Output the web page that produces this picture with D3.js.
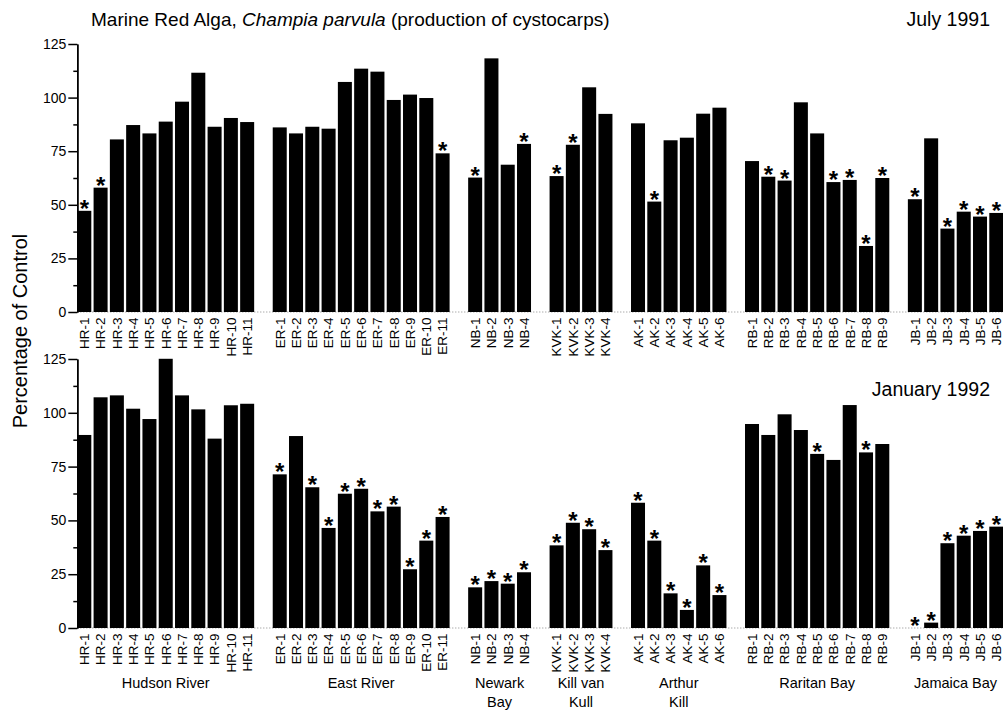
<!DOCTYPE html>
<meta charset="utf-8">
<style>
body { margin: 0; background: #fff; }
text { font-family: "Liberation Sans", Arial, Helvetica, sans-serif; fill: #000; }
.axis path, .axis line { stroke: #000; stroke-width: 1.5px; }
.axis text { font-size: 14px; }
.site { font-size: 13.5px; }
.group { font-size: 14.5px; }
.star { font-size: 24px; font-weight: bold; }
.baseline { stroke: #888; stroke-width: 1px; stroke-dasharray: 1,2; }
</style>
<body>
<script src="https://d3js.org/d3.v7.min.js"></script>
<script>
var width = 1003,
    height = 713;

// station groups
var groupCodes = ["HR", "ER", "NB", "KVK", "AK", "RB", "JB"];
var groupSizes = [11, 11, 4, 4, 6, 9, 6];
var groupNames = [["Hudson River"], ["East River"], ["Newark", "Bay"], ["Kill van", "Kull"],
                  ["Arthur", "Kill"], ["Raritan Bay"], ["Jamaica Bay"]];

// percentage of control, July 1991
var julyValues = [47.2, 58.0, 80.5, 87.2, 83.3, 88.8, 98.1, 111.6, 86.4, 90.5, 88.6,
                  86.1, 83.3, 86.4, 85.5, 107.3, 113.5, 112.1, 98.9, 101.4, 99.8, 74.0,
                  62.7, 118.3, 68.7, 78.4,
                  63.4, 78.0, 104.8, 92.4,
                  88.0, 51.5, 80.1, 81.3, 92.5, 95.3,
                  70.4, 63.1, 61.3, 97.8, 83.3, 60.6, 61.6, 30.8, 62.5,
                  52.6, 81.0, 38.9, 46.8, 44.5, 46.2];
var julySig = ["HR-1", "HR-2", "ER-11", "NB-1", "NB-4", "KVK-1", "KVK-2", "AK-2",
               "RB-2", "RB-3", "RB-6", "RB-7", "RB-8", "RB-9",
               "JB-1", "JB-3", "JB-4", "JB-5", "JB-6"];

// percentage of control, January 1992
var janValues = [89.7, 107.2, 108.1, 101.9, 97.1, 125.1, 108.1, 101.6, 88.0, 103.5, 104.2,
                 71.4, 89.2, 65.4, 46.5, 62.4, 64.7, 54.2, 56.4, 27.3, 40.6, 51.6,
                 18.9, 21.8, 20.6, 25.9,
                 38.4, 48.9, 45.9, 36.2,
                 58.2, 40.6, 16.1, 8.4, 29.1, 15.3,
                 94.8, 89.7, 99.3, 92.0, 80.9, 78.1, 103.6, 81.6, 85.5,
                 0, 2.5, 39.4, 42.9, 45.1, 47.1];
var janSig = ["ER-1", "ER-3", "ER-4", "ER-5", "ER-6", "ER-7", "ER-8", "ER-9", "ER-10", "ER-11",
              "NB-1", "NB-2", "NB-3", "NB-4", "KVK-1", "KVK-2", "KVK-3", "KVK-4",
              "AK-1", "AK-2", "AK-3", "AK-4", "AK-5", "AK-6", "RB-5", "RB-8",
              "JB-1", "JB-2", "JB-3", "JB-4", "JB-5", "JB-6"];

var yTicks = [0, 25, 50, 75, 100, 125];

// build site list and slot domain (one empty slot after each group)
var sites = [], slots = [], groups = [];
groupCodes.forEach(function(code, gi) {
  var members = [];
  for (var i = 1; i <= groupSizes[gi]; i++) {
    var s = code + "-" + i;
    sites.push(s); slots.push(s); members.push(s);
  }
  groups.push({ names: groupNames[gi], first: members[0], last: members[members.length - 1] });
  if (gi < groupCodes.length - 1) slots.push("gap" + gi);
});

var x = d3.scaleBand()
    .domain(slots)
    .range([77.3, 1003.3])
    .paddingInner(0.14)
    .paddingOuter(0);

var svg = d3.select("body").append("svg")
    .attr("width", width)
    .attr("height", height);

function panel(values, sig, y0, y1, date, dateY) {
  var y = d3.scaleLinear().domain([0, 125]).range([y0, y1]);
  var g = svg.append("g");
  var data = sites.map(function(s, i) { return { site: s, v: values[i], sig: sig.indexOf(s) >= 0 }; });

  g.append("line")
      .attr("class", "baseline")
      .attr("x1", x.range()[0]).attr("x2", width)
      .attr("y1", y(0)).attr("y2", y(0));

  g.selectAll("rect")
      .data(data)
    .enter().append("rect")
      .attr("x", function(d) { return x(d.site); })
      .attr("width", x.bandwidth())
      .attr("y", function(d) { return y(d.v); })
      .attr("height", function(d) { return y(0) - y(d.v); })
      .attr("fill", "#000");

  g.selectAll(".star")
      .data(data.filter(function(d) { return d.sig; }))
    .enter().append("text")
      .attr("class", "star")
      .attr("text-anchor", "middle")
      .attr("x", function(d) { return x(d.site) + x.bandwidth() / 2; })
      .attr("y", function(d) { return y(d.v) + 6; })
      .text("*");

  g.selectAll(".site")
      .data(data)
    .enter().append("text")
      .attr("class", "site")
      .attr("text-anchor", "end")
      .attr("transform", function(d) {
        return "translate(" + (x(d.site) + x.bandwidth() / 2 + 4.8) + "," + (y(0) + 5.5) + ")rotate(-90)";
      })
      .text(function(d) { return d.site; });

  g.append("g")
      .attr("class", "axis")
      .attr("transform", "translate(77.3,0)")
      .call(d3.axisLeft(y).tickValues(d3.range(12.5, 125, 25)).tickSize(4).tickSizeOuter(0).tickFormat(""));

  g.append("g")
      .attr("class", "axis")
      .attr("transform", "translate(77.3,0)")
      .call(d3.axisLeft(y).tickValues(yTicks).tickSize(9).tickSizeOuter(0).tickPadding(2))
      .selectAll("text").style("font-family", null);

  svg.append("text")
      .attr("x", 990).attr("y", dateY)
      .attr("text-anchor", "end")
      .style("font-size", "19.5px")
      .text(date);
}

panel(julyValues, julySig, 312, 44, "July 1991", 25.5);
panel(janValues, janSig, 628, 359, "January 1992", 396);

// group labels under the lower panel
groups.forEach(function(gr) {
  var cx = (x(gr.first) + x(gr.last) + x.bandwidth()) / 2;
  gr.names.forEach(function(line, li) {
    svg.append("text")
        .attr("class", "group")
        .attr("text-anchor", "middle")
        .attr("x", cx)
        .attr("y", 688 + li * 19)
        .text(line);
  });
});

// title
var title = svg.append("text")
    .attr("x", 91)
    .attr("y", 25.5)
    .style("font-size", "19px");
title.append("tspan").text("Marine Red Alga, ");
title.append("tspan").style("font-style", "italic").text("Champia parvula");
title.append("tspan").text(" (production of cystocarps)");

// y axis label
svg.append("text")
    .attr("transform", "translate(26.5,331)rotate(-90)")
    .attr("text-anchor", "middle")
    .style("font-size", "20px")
    .text("Percentage of Control");
</script>
